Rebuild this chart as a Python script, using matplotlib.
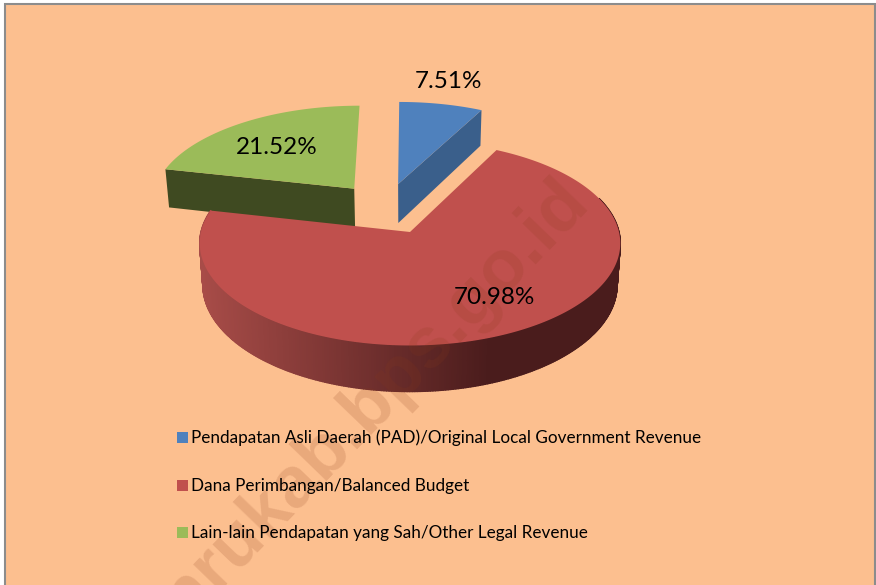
import numpy as np
import matplotlib
matplotlib.use('Agg')
import matplotlib.pyplot as plt
from matplotlib.collections import PolyCollection
from matplotlib.patches import Rectangle

# values
categories = ['Pendapatan Asli Daerah (PAD)/Original Local Government Revenue',
              'Dana Perimbangan/Balanced Budget',
              'Lain-lain Pendapatan yang Sah/Other Legal Revenue']
shares = [7.51, 70.98, 21.52]
share_labels = ['7.51%', '70.98%', '21.52%']

top_colors = ['#4F81BD', '#C0504D', '#9BBB59']
cut_colors = ['#3A5F8B', '#8C3836', '#3F4A21']
label_pos = [(449, 82), (494, 297), (277, 147)]
# slice explosion in disc units (x, back)
offsets = [(-0.06, 0.5), (0.0, 0.0), (-0.28, 0.45)]
legend_y = [438, 486, 533]

# projection of the tilted pie, in pixels
OX, OY = 410, 232
RX, RY, DEPTH, PERSP = 209, 101, 41, 0.11


def project(u, v, z=0.0):
    s = 1 / (1 + PERSP * v)
    x = OX + RX * u * s * (1 - 0.015 * z)
    y = OY - (RY * v - DEPTH * z) * s
    return x, y


def slice_arc(start, end, offset, n=200):
    # angles in degrees clockwise from 12 o'clock
    a = np.radians(np.linspace(start, end, n))
    return np.sin(a) + offset[0], np.cos(a) + offset[1]


def mix(c1, c2, t):
    c1 = np.array(matplotlib.colors.to_rgb(c1))
    c2 = np.array(matplotlib.colors.to_rgb(c2))
    return tuple(c1 + (c2 - c1) * t)


fig = plt.figure(figsize=(8.76, 5.85), dpi=100, facecolor='white')
ax = fig.add_axes([0, 0, 1, 1])
ax.set_xlim(0, 876)
ax.set_ylim(585, 0)
ax.axis('off')

ax.add_patch(Rectangle((5, 4), 869.5, 590, facecolor='#FCBF8F',
                       edgecolor='#8C8C8C', linewidth=1.5, zorder=0))

edges = np.cumsum([0] + shares) / sum(shares) * 360

# blue slice: cut face along its right edge
u, v = slice_arc(edges[0], edges[1], offsets[0])
end_u, end_v = u[-1], v[-1]
ox, oy = offsets[0]
xs, ys = project(np.array([ox, end_u, end_u, ox]), np.array([oy, end_v, end_v, oy]),
                 np.array([0, 0, 1, 1]))
ax.fill(xs, ys, color=cut_colors[0], lw=0, zorder=2)
xs, ys = project(np.r_[ox, u], np.r_[oy, v])
ax.fill(xs, ys, color=top_colors[0], lw=0, zorder=3)

# green slice: cut face along its left edge
u, v = slice_arc(edges[2], edges[3], offsets[2])
start_u, start_v = u[0], v[0]
ox, oy = offsets[2]
xs, ys = project(np.array([ox, start_u, start_u, ox]), np.array([oy, start_v, start_v, oy]),
                 np.array([0, 0, 1, 1]))
ax.fill(xs, ys, color=cut_colors[2], lw=0, zorder=2)
xs, ys = project(np.r_[ox, u], np.r_[oy, v])
ax.fill(xs, ys, color=top_colors[2], lw=0, zorder=3)

# red slice: shaded rim, then the top
u, v = slice_arc(edges[1], edges[2], offsets[1], n=400)
x_top, y_top = project(u, v)
x_bot, y_bot = project(u, v, 1.0)
rim_polys = []
rim_colors = []
for i in range(len(u) - 1):
    if v[i] > 0.35:
        continue
    rim_polys.append([(x_top[i], y_top[i]), (x_top[i + 1], y_top[i + 1]),
                      (x_bot[i + 1], y_bot[i + 1]), (x_bot[i], y_bot[i])])
    t = np.clip((x_top[i] - 200) / 290, 0, 1)
    rim_colors.append(mix('#A84C48', '#4A1C1C', t))
ax.add_collection(PolyCollection(rim_polys, facecolors=rim_colors, edgecolors=rim_colors,
                                 linewidths=1.0, zorder=4))
xs, ys = project(np.r_[offsets[1][0], u], np.r_[offsets[1][1], v])
ax.fill(xs, ys, color=top_colors[1], lw=0, zorder=5)

for (x, y), text in zip(label_pos, share_labels):
    ax.text(x, y, text, fontsize=17.5, family='Lato', color='black',
            ha='center', va='center', zorder=7)

for y, color, name in zip(legend_y, top_colors, categories):
    ax.add_patch(Rectangle((177, y - 6), 11, 11, facecolor=color, lw=0, zorder=7))
    ax.text(191, y, name, fontsize=12.3, family='Lato', color='black',
            ha='left', va='center', zorder=7)

# site watermark across the chart
ax.text(349, 431, 'winrukab.bps.go.id', fontsize=52,
        family=['Liberation Sans Narrow', 'Liberation Sans'],
        fontweight='bold', rotation=46, rotation_mode='anchor', color='#8A3A1A',
        alpha=0.17, ha='center', va='center', zorder=6)

fig.savefig('out.png', dpi=100)
